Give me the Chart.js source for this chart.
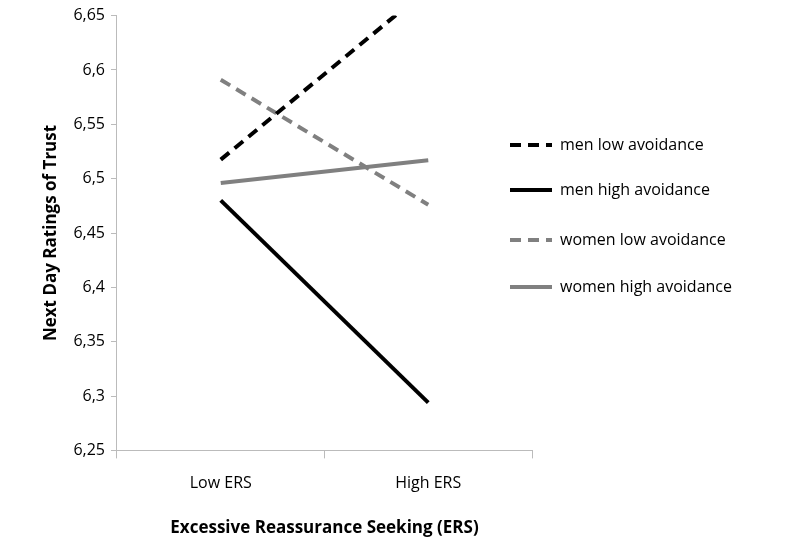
<!DOCTYPE html>
<html><head><meta charset="utf-8">
<script src="https://cdn.jsdelivr.net/npm/chart.js@4/dist/chart.umd.min.js"></script>
<style>html,body{margin:0;padding:0;background:#fff}#w{width:787px;height:548px}</style>
</head><body><div id="w"><canvas id="c"></canvas></div>
<script>
const categories = ["Low ERS", "High ERS"];
const menLow = [6.5175, 6.675];
const menHigh = [6.48, 6.294];
const womenLow = [6.591, 6.476];
const womenHigh = [6.496, 6.517];
const seriesNames = ["men low avoidance", "men high avoidance", "women low avoidance", "women high avoidance"];
const F = "'Open Sans', sans-serif";
function ds(label, data, color, dash){return {label, data, borderColor:color, backgroundColor:color, borderWidth:4, borderDash:dash, pointRadius:0, tension:0, borderCapStyle:'butt'};}
const sideLegend = {id:'sideLegend', afterDraw(chart){
  const ctx = chart.ctx; const x0 = chart.chartArea.right - 22;
  const ys = [145, 190, 240, 287];
  chart.data.datasets.forEach((d,i)=>{
    ctx.save();
    ctx.strokeStyle = d.borderColor; ctx.lineWidth = 4; ctx.setLineDash(d.borderDash);
    ctx.beginPath(); ctx.moveTo(x0, ys[i]); ctx.lineTo(x0+42, ys[i]); ctx.stroke();
    ctx.setLineDash([]); ctx.fillStyle = '#000'; ctx.font = '16px ' + F; ctx.textBaseline = 'middle';
    ctx.fillText(d.label, x0+50, ys[i]);
    ctx.restore();
  });
}};
new Chart(document.getElementById('c'), {
  type:'line',
  data:{labels:categories, datasets:[
    ds(seriesNames[0], menLow, '#000', [11,7]),
    ds(seriesNames[1], menHigh, '#000', []),
    ds(seriesNames[2], womenLow, '#808080', [11,7]),
    ds(seriesNames[3], womenHigh, '#808080', [])
  ]},
  plugins:[sideLegend],
  options:{responsive:true, maintainAspectRatio:false, animation:false,
    layout:{padding:{top:0,left:37,right:255,bottom:6}},
    plugins:{tooltip:{enabled:false}, legend:{display:false}},
    scales:{
      x:{offset:true, grid:{offset:true, drawOnChartArea:false, tickLength:8, color:'#bbb'}, border:{color:'#bbb'},
         ticks:{color:'#000', font:{family:F,size:16}, padding:15},
         title:{display:true, text:'Excessive Reassurance Seeking (ERS)', color:'#000', font:{family:F,size:17,weight:'bold'}, padding:{top:10}}},
      y:{min:6.25, max:6.65, grid:{drawOnChartArea:false, tickLength:6, color:'#bbb'}, border:{color:'#bbb'},
         ticks:{stepSize:0.05, color:'#000', font:{family:F,size:16}, padding:6,
           callback:v=>(Math.round(v*100)/100).toString().replace('.',',')},
         title:{display:true, text:'Next Day Ratings of Trust', color:'#000', font:{family:F,size:17,weight:'bold'}, padding:{bottom:6}}}
    }}
});
</script></body></html>
